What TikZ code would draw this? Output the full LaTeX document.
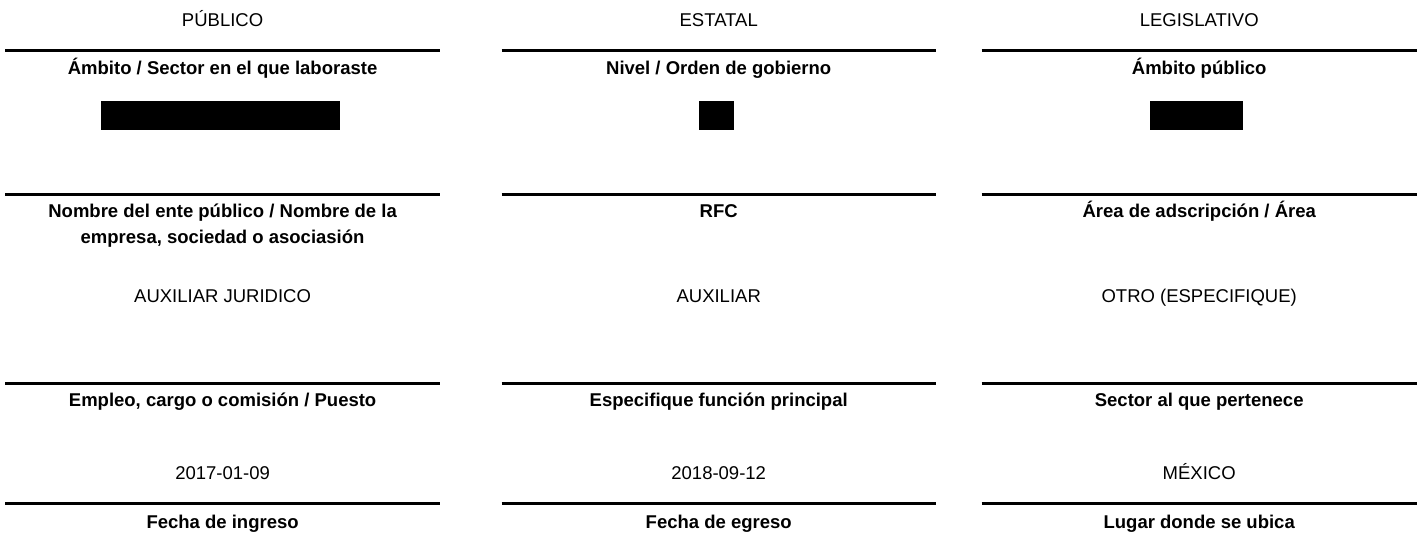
\documentclass[tikz,border=0pt]{standalone}
\usepackage{fontspec}
\setmainfont{Liberation Sans}
\begin{document}
\begin{tikzpicture}[x=1pt,y=-1pt,
  every node/.style={inner sep=0pt, outer sep=0pt, font=\fontsize{18.5}{26}\selectfont},
  head/.style={anchor=base},
  lbl/.style={anchor=base, font=\fontsize{18.5}{26}\selectfont\bfseries, align=center},
  val/.style={anchor=base},
  rule/.style={line width=2.7pt},
  redact/.style={fill=black}]
\useasboundingbox (0,0) rectangle (1421,533);
% column geometry
\foreach \c/\l/\r/\m in {a/5/440.3/222.6, b/501.5/936/718.7, c/981.5/1417/1199.2}{
  \coordinate (\c L1) at (\l,50.5);  \coordinate (\c R1) at (\r,50.5);
  \coordinate (\c L2) at (\l,194.5); \coordinate (\c R2) at (\r,194.5);
  \coordinate (\c L3) at (\l,383.5); \coordinate (\c R3) at (\r,383.5);
  \coordinate (\c L4) at (\l,503.5); \coordinate (\c R4) at (\r,503.5);
  \draw[rule] (\c L1) -- (\c R1);
  \draw[rule] (\c L2) -- (\c R2);
  \draw[rule] (\c L3) -- (\c R3);
  \draw[rule] (\c L4) -- (\c R4);
}
% column 1
\node[head] (h1) at (222.6,26) {PÚBLICO};
\node[lbl] (l11) at (222.6,74.7) {Ámbito / Sector en el que laboraste};
\fill[redact] (101,101) rectangle (340,130);
\node[lbl] (l12) at (222.6,243.5) {Nombre del ente público / Nombre de la\\empresa, sociedad o asociasión};
\node[val] (v12) at (222.6,302.7) {AUXILIAR JURIDICO};
\node[lbl] (l13) at (222.6,406.7) {Empleo, cargo o comisión / Puesto};
\node[val] (v13) at (222.6,479) {2017-01-09};
\node[lbl] (l14) at (222.6,528.3) {Fecha de ingreso};
% column 2
\node[head] (h2) at (718.7,26) {ESTATAL};
\node[lbl] (l21) at (718.7,74.7) {Nivel / Orden de gobierno};
\fill[redact] (699,101) rectangle (734,130);
\node[lbl] (l22) at (718.7,217.7) {RFC};
\node[val] (v22) at (718.7,302.7) {AUXILIAR};
\node[lbl] (l23) at (718.7,406.7) {Especifique función principal};
\node[val] (v23) at (718.7,479) {2018-09-12};
\node[lbl] (l24) at (718.7,528.3) {Fecha de egreso};
% column 3
\node[head] (h3) at (1199.2,26) {LEGISLATIVO};
\node[lbl] (l31) at (1199.2,74.7) {Ámbito público};
\fill[redact] (1150,101) rectangle (1243,130);
\node[lbl] (l32) at (1199.2,217.7) {Área de adscripción / Área};
\node[val] (v32) at (1199.2,302.7) {OTRO (ESPECIFIQUE)};
\node[lbl] (l33) at (1199.2,406.7) {Sector al que pertenece};
\node[val] (v33) at (1199.2,479) {MÉXICO};
\node[lbl] (l34) at (1199.2,528.3) {Lugar donde se ubica};
\end{tikzpicture}
\end{document}
